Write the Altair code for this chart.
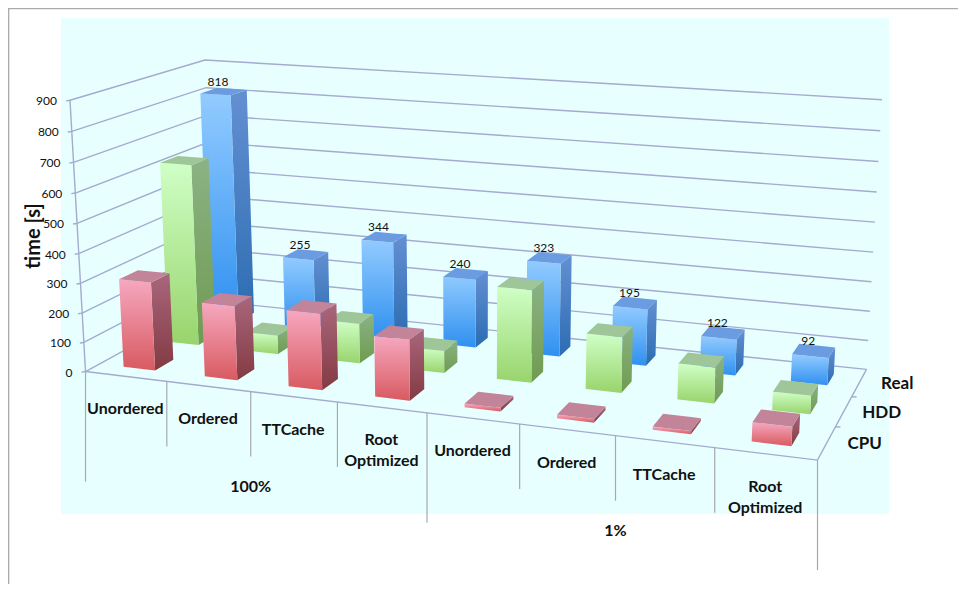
import numpy as np
import pandas as pd
import altair as alt

groups = ["100%", "1%"]
categories = ["Unordered", "Ordered", "TTCache", ["Root", "Optimized"]] * 2
series = ["CPU", "HDD", "Real"]
cpu = [300, 250, 255, 200, 12, 12, 10, 60]
hdd = [630, 65, 137, 75, 310, 185, 118, 60]
real = [818, 255, 344, 240, 323, 195, 122, 92]
ticks = list(range(0, 1000, 100))
MAXV = 900

W, H = 950, 576
FONT = "Lato"
GRID = "#A3ABCF"
GRAY = "#A9A9A9"
TXT = "#111111"

# 3D -> picture projection fitted on the plot box corners (u across, v depth, w height)
corners = [
    ((0, 0, 0), (85.7, 371)), ((1, 0, 0), (817.3, 461)), ((1, 1, 0), (866.7, 368.3)),
    ((0, 1, 0), (214, 302)), ((0, 0, 1), (70, 100)), ((0, 1, 1), (205, 60)), ((1, 1, 1), (882, 100)),
]
A, b = [], []
for (u, v, w), (px, py) in corners:
    A.append([u, v, w, 1, 0, 0, 0, 0, -px * u, -px * v, -px * w]); b.append(px)
    A.append([0, 0, 0, 0, u, v, w, 1, -py * u, -py * v, -py * w]); b.append(py)
p = np.linalg.lstsq(np.array(A, float), np.array(b, float), rcond=None)[0]
P = np.append(p, 1).reshape(3, 4)


def proj(u, v, w):
    r = P @ np.array([u, v, w, 1.0])
    return float(r[0] / r[2]), float(r[1] / r[2])


SX = alt.Scale(domain=[8, 8 + W], zero=False, nice=False)
SY = alt.Scale(domain=[8 + H, 8], zero=False, nice=False)
ex = alt.X("x:Q", scale=SX, axis=None)
ey = alt.Y("y:Q", scale=SY, axis=None)


def grad(c1, c2):
    return alt.Gradient(gradient="linear", x1=0, x2=0, y1=0, y2=1,
                        stops=[alt.GradientStop(offset=0, color=c1), alt.GradientStop(offset=1, color=c2)])


def face(pts, color):
    xs = sorted({round(q[0], 3) for q in pts})
    n = len(pts)
    rows = []
    for x in xs:
        ys = []
        for i in range(n):
            a, c = pts[i], pts[(i + 1) % n]
            lo, hi = min(a[0], c[0]), max(a[0], c[0])
            if lo - 0.002 <= x <= hi + 0.002:
                if abs(c[0] - a[0]) < 1e-6:
                    ys += [a[1], c[1]]
                else:
                    ys.append(a[1] + (x - a[0]) / (c[0] - a[0]) * (c[1] - a[1]))
        rows.append({"x": x, "y": min(ys), "y2": max(ys)})
    return alt.Chart(pd.DataFrame(rows)).mark_area(color=color, interpolate="linear").encode(
        x=ex, y=ey, y2="y2:Q")


def seg(pts, color, width=1.4):
    df = pd.DataFrame([{"x": q[0], "y": q[1], "o": i} for i, q in enumerate(pts)])
    return alt.Chart(df).mark_line(color=color, strokeWidth=width).encode(x=ex, y=ey, order="o:Q")


def label(x, y, t, size=16, weight="bold", align="center", angle=0, color=TXT):
    df = pd.DataFrame([{"x": x, "y": y, "t": t}])
    kw = {"angle": angle} if angle else {}
    return alt.Chart(df).mark_text(font=FONT, fontSize=size, fontWeight=weight, align=align,
                                   baseline="middle", color=color, **kw).encode(x=ex, y=ey, text="t:N")


layers = []
# panel and frame
layers.append(alt.Chart(pd.DataFrame([{"x": 61, "x2": 889, "y": 18, "y2": 514}])).mark_rect(color="#E8FFFF").encode(
    x=ex, x2="x2:Q", y=ey, y2="y2:Q"))
layers.append(seg([(8.6, 592), (8.6, 8.6), (966, 8.6)], "#ABABAB", 1.5))

# walls
for t in ticks:
    w = t / MAXV
    layers.append(seg([proj(0, 0, w), proj(0, 1, w), proj(1, 1, w)], GRID))
    x0, y0 = proj(0, 0, w)
    layers.append(seg([(x0 - 4, y0 + 0.6), (x0, y0)], GRID))
layers.append(seg([proj(0, 0, 0), proj(0, 0, 1)], GRID))
layers.append(seg([proj(0, 0, 0), proj(1, 0, 0), proj(1, 1, 0)], GRID))
for k in (1, 2):
    a = proj(1, k / 3, 0)
    layers.append(seg([a, (a[0] + 5, a[1])], GRID))

# category separators
for k in range(9):
    x0, y0 = proj(k / 8, 0, 0)
    layers.append(seg([(x0, y0), (x0, y0 + (110 if k % 4 == 0 else 65))], GRAY, 1.2))

# bars
styles = {
    "CPU": dict(front=("#F6A8C0", "#D85A60"), side=("#A9677C", "#833A42"), top="#C28498"),
    "HDD": dict(front=("#CFFFC6", "#98D46C"), side=("#8BB284", "#6F9B50"), top="#9EC699"),
    "Real": dict(front=("#92CBFF", "#2F90F0"), side=("#6490D2", "#2B6CB2"), top="#6B9CE2"),
}
DU, DV = 0.0245, 0.068
values = {"CPU": cpu, "HDD": hdd, "Real": real}
for j in (2, 1, 0):
    s = series[j]
    st = styles[s]
    v = (j + 0.5) / 3
    for i in range(7, -1, -1):
        u = (i + 0.5) / 8 - 0.0005
        w = values[s][i] / MAXV
        u0, u1, v0, v1 = u - DU, u + DU, v - DV, v + DV
        layers.append(face([proj(u1, v0, w), proj(u1, v1, w), proj(u1, v1, 0), proj(u1, v0, 0)], grad(*st["side"])))
        layers.append(face([proj(u0, v0, w), proj(u1, v0, w), proj(u1, v0, 0), proj(u0, v0, 0)], grad(*st["front"])))
        layers.append(face([proj(u0, v0, w), proj(u0, v1, w), proj(u1, v1, w), proj(u1, v0, w)], st["top"]))

# value labels
for i, val in enumerate(real):
    x, y = proj((i + 0.5) / 8, 5 / 6, val / MAXV)
    layers.append(label(x - 6, y - 10, str(val), 12, "normal"))

# tick labels
for t in ticks:
    x0, y0 = proj(0, 0, t / MAXV)
    layers.append(label(x0 - 13, y0 + 1, str(t), 12, "normal", "right"))

# category labels
for k, c in enumerate(categories):
    x0, y0 = proj((k + 0.5) / 8, 0, 0)
    lines = c if isinstance(c, list) else [c]
    for n, t in enumerate(lines):
        layers.append(label(x0 - 0.5, y0 + 33 + n * 21, t))
for g, t in enumerate(groups):
    x0, y0 = proj((g * 4 + 2) / 8, 0, 0)
    layers.append(label(x0, y0 + 95, t))

# series labels
for j, s in enumerate(series):
    x0, y0 = proj(1, (j + 0.5) / 3, 0)
    layers.append(label(x0 + 38, y0 + 1, s, 17))

layers.append(label(34, 236, "time [s]", 20, "bold", "center", 270))

chart = alt.layer(*layers).properties(
    width=W, height=H, padding=0, autosize=alt.AutoSizeParams(type="none")
).configure_view(stroke=None)
chart.save("out.html", embed_options={"renderer": "svg", "actions": False})
